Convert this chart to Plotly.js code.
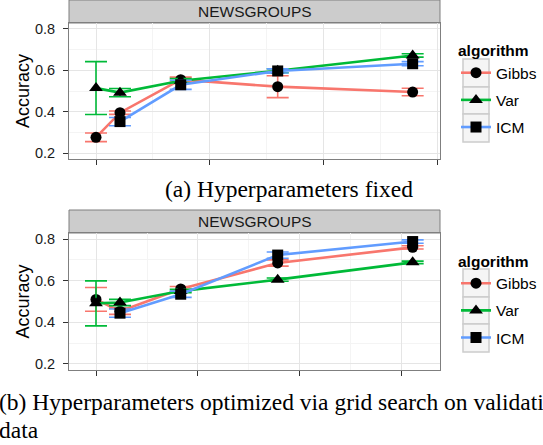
<!DOCTYPE html>
<html>
<head>
<meta charset="utf-8">
<script src="https://cdn.plot.ly/plotly-3.0.1.min.js"></script>
<style>html,body{margin:0;padding:0;background:#fff;overflow:hidden;}#chart{width:543px;height:445px;}</style>
</head>
<body>
<div id="chart"></div>
<script>
// ---- data ----
const algorithms = ["Gibbs", "Var", "ICM"];
const xPos = [0, 0.211, 0.745, 1.598, 2.785];

// (a) Hyperparameters fixed
const gibbsFixed = [0.276, 0.395, 0.555, 0.521, 0.495];
const gibbsFixedErr = [0.021, 0.008, 0.012, 0.053, 0.018];
const varFixed = [0.514, 0.492, 0.550, 0.598, 0.672];
const varFixedErr = [0.128, 0.020, 0.010, 0.010, 0.008];
const icmFixed = [null, 0.352, 0.530, 0.597, 0.632];
const icmFixedErr = [null, 0.020, 0.022, 0.010, 0.010];

// (b) Hyperparameters optimized
const gibbsOpt = [0.510, 0.453, 0.560, 0.685, 0.760];
const gibbsOptErr = [0.057, 0.015, 0.012, 0.015, 0.008];
const varOpt = [0.491, 0.495, 0.550, 0.605, 0.688];
const varOptErr = [0.108, 0.015, 0.008, 0.008, 0.006];
const icmOpt = [null, 0.444, 0.535, 0.723, 0.788];
const icmOptErr = [null, 0.020, 0.015, 0.015, 0.008];

const stripLabel = "NEWSGROUPS";
const yTickVals = [0.2, 0.4, 0.6, 0.8];
const yTickText = ["0.2", "0.4", "0.6", "0.8"];
const captionA = "(a) Hyperparameters fixed";
const captionB1 = "(b) Hyperparameters optimized via grid search on validation";
const captionB2 = "data";

// ---- styling ----
const colors = {Gibbs: "#F8766D", Var: "#00BA38", ICM: "#619CFF"};
const symbols = {Gibbs: "circle", Var: "triangle-up", ICM: "square"};
const W = 543, H = 445;
const px = v => v / W;
const py = v => 1 - v / H;
const sans = "Liberation Sans, Arial, Helvetica, sans-serif";
const serif = "Liberation Serif, Times New Roman, serif";

const panels = [
  {vals: {Gibbs: gibbsFixed, Var: varFixed, ICM: icmFixed},
   errs: {Gibbs: gibbsFixedErr, Var: varFixedErr, ICM: icmFixedErr},
   xa: "x", ya: "y", legend: "legend"},
  {vals: {Gibbs: gibbsOpt, Var: varOpt, ICM: icmOpt},
   errs: {Gibbs: gibbsOptErr, Var: varOptErr, ICM: icmOptErr},
   xa: "x2", ya: "y2", legend: "legend2"}
];

const traces = [];
panels.forEach((p, pi) => {
  algorithms.forEach(a => {
    traces.push({
      type: "scatter", mode: "lines+markers",
      x: xPos, y: p.vals[a], name: a,
      xaxis: p.xa, yaxis: p.ya, legend: p.legend,
      legendgroup: a + pi,
      connectgaps: false,
      line: {color: colors[a], width: 2.6},
      marker: {color: "black", symbol: symbols[a], size: a === "Var" ? 12 : 11},
      error_y: {type: "data", array: p.errs[a], visible: true, color: colors[a], thickness: 1.6, width: 11},
      hoverinfo: "x+y"
    });
  });
});

function xaxis(dtick, anchor) {
  return {
    domain: [px(69), px(440)], range: [-0.2375, 3.0255], anchor: anchor,
    tickmode: "linear", tick0: 0, dtick: dtick,
    showticklabels: false, ticks: "outside", ticklen: 5, tickcolor: "#333333", tickwidth: 1,
    showgrid: true, gridcolor: "#E5E5E5", gridwidth: 1,
    minor: {dtick: dtick / 2, tick0: 0, showgrid: true, gridcolor: "#F4F4F4", gridwidth: 1},
    zeroline: false, showline: true, mirror: true, linecolor: "#7F7F7F", linewidth: 1,
    automargin: false
  };
}
function yaxis(dom, anchor) {
  return {
    domain: dom, range: [0.171, 0.829], anchor: anchor,
    tickmode: "array", tickvals: yTickVals, ticktext: yTickText,
    ticks: "outside", ticklen: 5, tickcolor: "#333333", tickwidth: 1,
    ticklabelstandoff: 5,
    tickfont: {family: sans, size: 14.5, color: "#1A1A1A"},
    showgrid: true, gridcolor: "#E5E5E5", gridwidth: 1,
    minor: {dtick: 0.1, tick0: 0, showgrid: true, gridcolor: "#F4F4F4", gridwidth: 1},
    zeroline: false, showline: true, mirror: true, linecolor: "#7F7F7F", linewidth: 1,
    title: {text: "Accuracy", font: {family: sans, size: 18, color: "#000"}, standoff: 0},
    automargin: false
  };
}

const shapes = [];
const annotations = [];
// strips
[[0, 23], [210, 233]].forEach(([t, b]) => {
  shapes.push({type: "rect", xref: "paper", yref: "paper", x0: px(69), x1: px(440), y0: py(b), y1: py(t),
    fillcolor: "#CCCCCC", line: {color: "#7F7F7F", width: 1}, layer: "below"});
  annotations.push({xref: "paper", yref: "paper", x: px(254.5), y: py((t + b) / 2), text: stripLabel,
    showarrow: false, xanchor: "center", yanchor: "middle", font: {family: sans, size: 15.5, color: "#1A1A1A"}});
});
// legend key boxes
[[59, 87, 114, 142], [269, 297, 324, 352]].forEach(edges => {
  for (let i = 0; i < 3; i++) {
    shapes.push({type: "rect", xref: "paper", yref: "paper", x0: px(463), x1: px(489), y0: py(edges[i + 1]), y1: py(edges[i]),
      fillcolor: "#F5F5F5", line: {color: "#CCCCCC", width: 1.5}, layer: "below"});
  }
});
// captions
annotations.push({xref: "paper", yref: "paper", x: px(289), y: py(189), text: captionA, showarrow: false,
  xanchor: "center", yanchor: "middle", font: {family: serif, size: 23.5, color: "#000"}});
annotations.push({xref: "paper", yref: "paper", x: px(-3), y: py(401.5), text: captionB1, showarrow: false,
  xanchor: "left", yanchor: "middle", align: "left", font: {family: serif, size: 23.5, color: "#000"}});
annotations.push({xref: "paper", yref: "paper", x: px(-3), y: py(430), text: captionB2, showarrow: false,
  xanchor: "left", yanchor: "middle", align: "left", font: {family: serif, size: 23.5, color: "#000"}});

const legendBase = {
  xanchor: "left", yanchor: "top", bgcolor: "rgba(0,0,0,0)", borderwidth: 0,
  font: {family: sans, size: 15.5, color: "#000"},
  title: {text: "<b>algorithm</b>", font: {family: sans, size: 15.5, color: "#000"}},
  tracegroupgap: 4, itemwidth: 30, traceorder: "grouped"
};

const layout = {
  width: W, height: H,
  margin: {l: 0, r: 0, t: 0, b: 0, autoexpand: false},
  paper_bgcolor: "#FFFFFF", plot_bgcolor: "#FFFFFF",
  showlegend: true,
  xaxis: xaxis(1, "y"),
  yaxis: yaxis([py(159), py(23)], "x"),
  xaxis2: xaxis(0.897, "y2"),
  yaxis2: yaxis([py(370), py(233)], "x2"),
  legend: Object.assign({}, legendBase, {x: px(456), y: py(36)}),
  legend2: Object.assign({}, legendBase, {x: px(456), y: py(246.5)}),
  shapes: shapes, annotations: annotations
};

Plotly.newPlot("chart", traces, layout, {staticPlot: true, displayModeBar: false});
</script>
</body>
</html>
